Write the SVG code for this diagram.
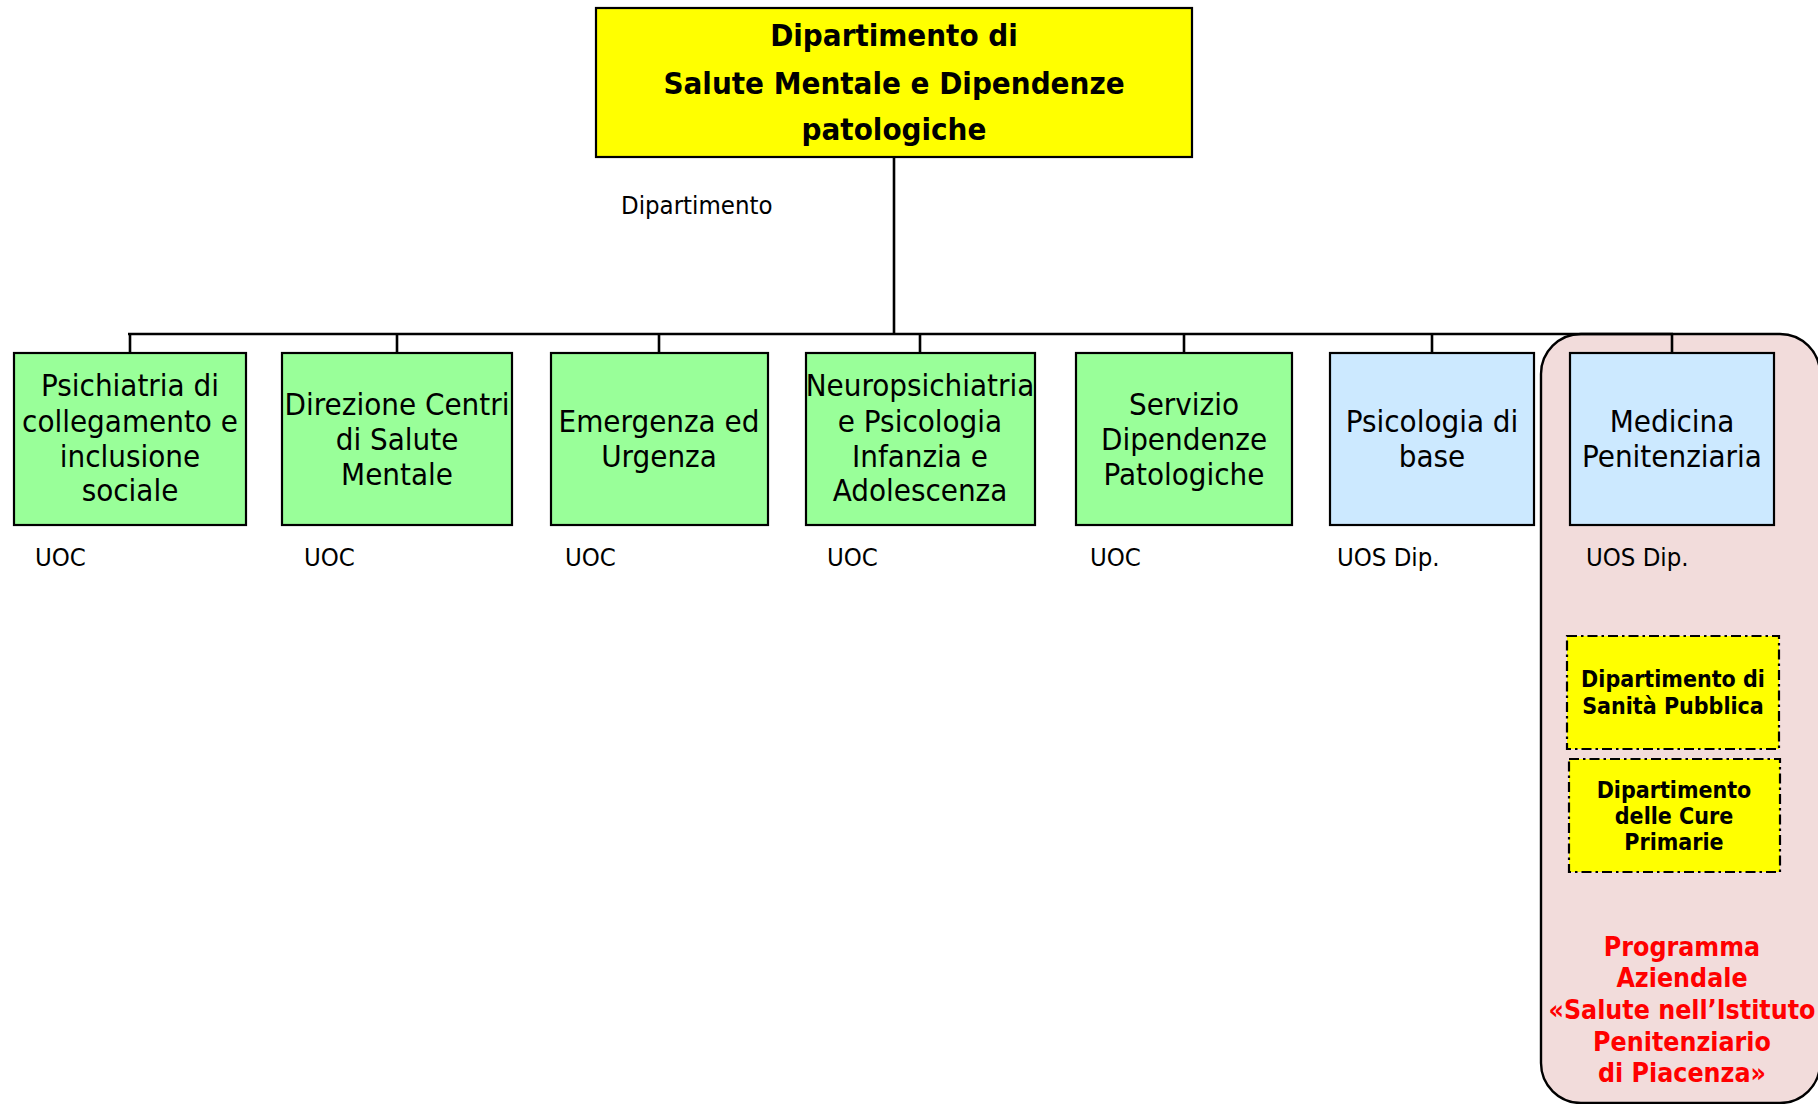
<svg xmlns="http://www.w3.org/2000/svg" width="1818" height="1104" viewBox="0 0 1818 1104">
<style>
.t{font-family:"DejaVu Sans Condensed","DejaVu Sans",sans-serif;fill:#000}
.box{stroke:#000;stroke-width:2.2}
.g{fill:#99ff99}
.b{fill:#cce9ff}
.y{fill:#ffff00}
.lbl{font-size:31px;text-anchor:middle}
.small{font-size:25.5px}
.dash{fill:#ffff00;stroke:#000;stroke-width:2.2;stroke-dasharray:10 4 2.5 4}
.bold{font-weight:bold}
.red{fill:#ff0000;font-weight:bold;font-size:26.5px;text-anchor:middle}
</style>
<rect width="1818" height="1104" fill="#fff"/>
<g id="container">
<rect x="1541" y="334" width="279" height="769" rx="40" ry="40" fill="#f2dcdb" stroke="#000" stroke-width="2.4"/>
</g>
<g id="connectors" stroke="#000" stroke-width="2.6" fill="none">
<line x1="894" y1="157" x2="894" y2="334"/>
<line x1="128" y1="334" x2="1673" y2="334"/>
<line x1="130" y1="334" x2="130" y2="353"/>
<line x1="397" y1="334" x2="397" y2="353"/>
<line x1="659" y1="334" x2="659" y2="353"/>
<line x1="920" y1="334" x2="920" y2="353"/>
<line x1="1184" y1="334" x2="1184" y2="353"/>
<line x1="1432" y1="334" x2="1432" y2="353"/>
<line x1="1672" y1="334" x2="1672" y2="353"/>
</g>
<g id="top">
<rect class="box y" x="596" y="8" width="596" height="149"/>
<text class="t bold" font-size="31" text-anchor="middle"><tspan x="894" y="46">Dipartimento di</tspan><tspan x="894" y="94">Salute Mentale e Dipendenze</tspan><tspan x="894" y="140">patologiche</tspan></text>
<text class="t small" x="621" y="214">Dipartimento</text>
</g>
<g id="n1">
<rect class="box g" x="14" y="353" width="232" height="172"/>
<text class="t lbl"><tspan x="130" y="396">Psichiatria di</tspan><tspan x="130" y="432">collegamento e</tspan><tspan x="130" y="467">inclusione</tspan><tspan x="130" y="501">sociale</tspan></text>
<text class="t small" x="35" y="566">UOC</text>
</g>
<g id="n2">
<rect class="box g" x="282" y="353" width="230" height="172"/>
<text class="t lbl"><tspan x="397" y="415">Direzione Centri</tspan><tspan x="397" y="450">di Salute</tspan><tspan x="397" y="485">Mentale</tspan></text>
<text class="t small" x="304" y="566">UOC</text>
</g>
<g id="n3">
<rect class="box g" x="551" y="353" width="217" height="172"/>
<text class="t lbl"><tspan x="659" y="432">Emergenza ed</tspan><tspan x="659" y="467">Urgenza</tspan></text>
<text class="t small" x="565" y="566">UOC</text>
</g>
<g id="n4">
<rect class="box g" x="806" y="353" width="229" height="172"/>
<text class="t lbl"><tspan x="920" y="396">Neuropsichiatria</tspan><tspan x="920" y="432">e Psicologia</tspan><tspan x="920" y="467">Infanzia e</tspan><tspan x="920" y="501">Adolescenza</tspan></text>
<text class="t small" x="827" y="566">UOC</text>
</g>
<g id="n5">
<rect class="box g" x="1076" y="353" width="216" height="172"/>
<text class="t lbl"><tspan x="1184" y="415">Servizio</tspan><tspan x="1184" y="450">Dipendenze</tspan><tspan x="1184" y="485">Patologiche</tspan></text>
<text class="t small" x="1090" y="566">UOC</text>
</g>
<g id="n6">
<rect class="box b" x="1330" y="353" width="204" height="172"/>
<text class="t lbl"><tspan x="1432" y="432">Psicologia di</tspan><tspan x="1432" y="467">base</tspan></text>
<text class="t small" x="1337" y="566">UOS Dip.</text>
</g>
<g id="n7">
<rect class="box b" x="1570" y="353" width="204" height="172"/>
<text class="t lbl"><tspan x="1672" y="432">Medicina</tspan><tspan x="1672" y="467">Penitenziaria</tspan></text>
<text class="t small" x="1586" y="566">UOS Dip.</text>
</g>
<g id="dsp">
<rect class="dash" x="1567" y="636" width="212" height="113"/>
<text class="t bold" font-size="23" text-anchor="middle"><tspan x="1673" y="687">Dipartimento di</tspan><tspan x="1673" y="714">Sanità Pubblica</tspan></text>
</g>
<g id="dcp">
<rect class="dash" x="1569" y="759" width="211" height="113"/>
<text class="t bold" font-size="23" text-anchor="middle"><tspan x="1674" y="798">Dipartimento</tspan><tspan x="1674" y="824">delle Cure</tspan><tspan x="1674" y="850">Primarie</tspan></text>
</g>
<g id="programma">
<text class="t red"><tspan x="1682" y="956">Programma</tspan><tspan x="1682" y="987">Aziendale</tspan><tspan x="1682" y="1019">«Salute nell’Istituto</tspan><tspan x="1682" y="1051">Penitenziario</tspan><tspan x="1682" y="1082">di Piacenza»</tspan></text>
</g>
</svg>
